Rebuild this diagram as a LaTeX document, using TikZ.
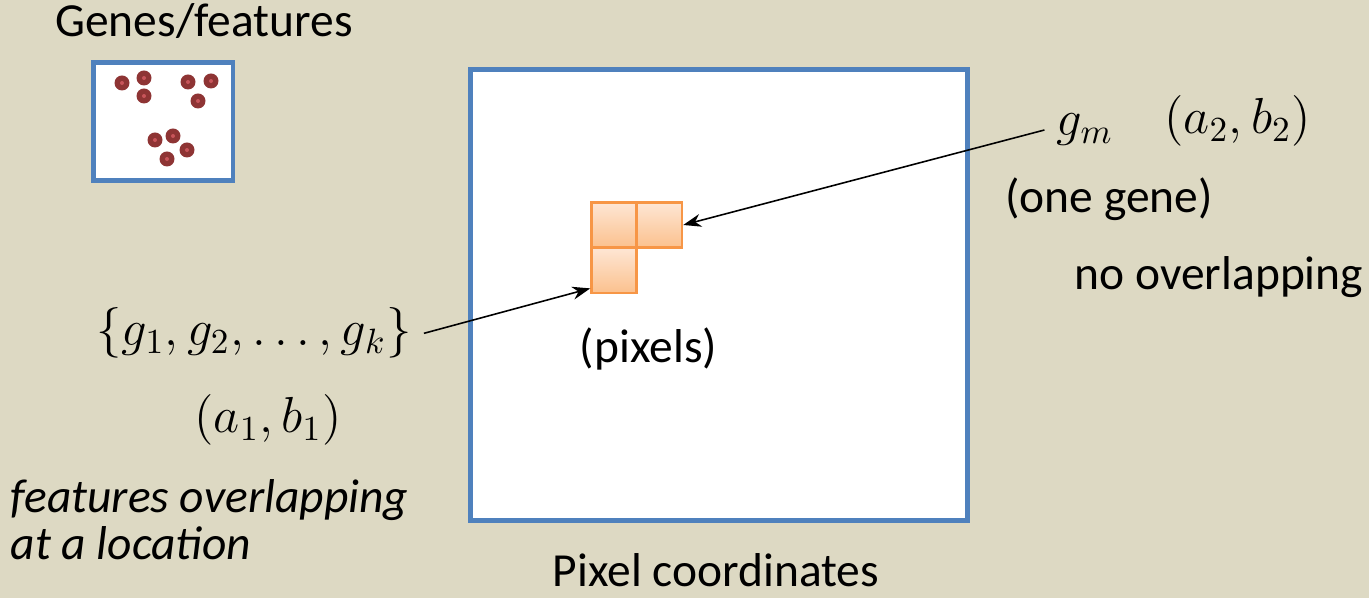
\documentclass[tikz,border=0pt]{standalone}
\usepackage[no-math]{fontspec}
\setmainfont{Carlito}
\usetikzlibrary{arrows.meta}
\definecolor{slidebg}{HTML}{DDD9C3}
\definecolor{boxblue}{HTML}{4F81BD}
\definecolor{pixorange}{HTML}{F79646}
\definecolor{pixtop}{HTML}{FEE6D4}
\definecolor{pixbot}{HTML}{FBC18E}
\definecolor{geneout}{HTML}{8E3434}
\definecolor{genecore}{HTML}{C8555A}

\begin{document}
\begin{tikzpicture}[x=0.01cm,y=-0.01cm,
    txt/.style={font=\fontsize{13.5}{13.4}\selectfont, anchor=base},
    mth/.style={font=\fontsize{14.5}{16}\selectfont, anchor=base},
    pixel/.style={draw=pixorange, line width=0.7pt, top color=pixtop,
      bottom color=pixbot, minimum size=4.5mm, inner sep=0pt},
    pointer/.style={-{Stealth[length=1.8mm,width=1.3mm]}, line width=0.45pt}]
  % background
  \path[use as bounding box, fill=slidebg] (0,0) rectangle (1369,598);

  % genes/features box
  \node[txt] (genes) at (204,37) {Genes/features};
  \draw[boxblue, line width=1.4pt, fill=white] (93.5,62.5) rectangle (233,180.5);
  \foreach \x/\y in {122/83, 144/78, 144/96, 188/82, 211/81, 198/101,
                     155/140, 173/136, 187/150, 167/159}
  {
    \fill[geneout] (\x,\y) circle[radius=7.5];
    \fill[genecore] (\x,\y) circle[radius=2];
  }

  % pixel coordinates box
  \draw[boxblue, line width=1.4pt, fill=white] (470.5,69.5) rectangle (967.5,520.5);
  \node[txt] (pixcoord) at (716,587) {Pixel coordinates};

  % pixels
  \node[pixel] (sq1) at (614,225) {};
  \node[pixel] (sq2) at (659.5,225) {};
  \node[pixel] (sq3) at (614,270.5) {};
  \node[txt] (pixels) at (648.5,363) {(pixels)};

  % one gene
  \node[mth] (gm) at (1085,136) {$g_m$};
  \node[mth] (ab2) at (1237.5,134) {$(a_2, b_2)$};
  \node[txt] (onegene) at (1109,213) {(one gene)};
  \node[txt] (nooverlap) at (1219,290) {no overlapping};
  \draw[pointer] (gm.west) -- (sq2.east);

  % several genes
  \node[mth] (gset) at (254,346) {$\{g_1, g_2, \ldots, g_k\}$};
  \node[mth] (ab1) at (268,433) {$(a_1, b_1)$};
  \node[txt, anchor=base west, inner sep=0pt] (feat1) at (10,513) {\itshape features overlapping};
  \node[txt, anchor=base west, inner sep=0pt] (feat2) at (10,560) {\itshape at a location};
  \draw[pointer] (gset.east) -- (sq3.217);
\end{tikzpicture}
\end{document}
